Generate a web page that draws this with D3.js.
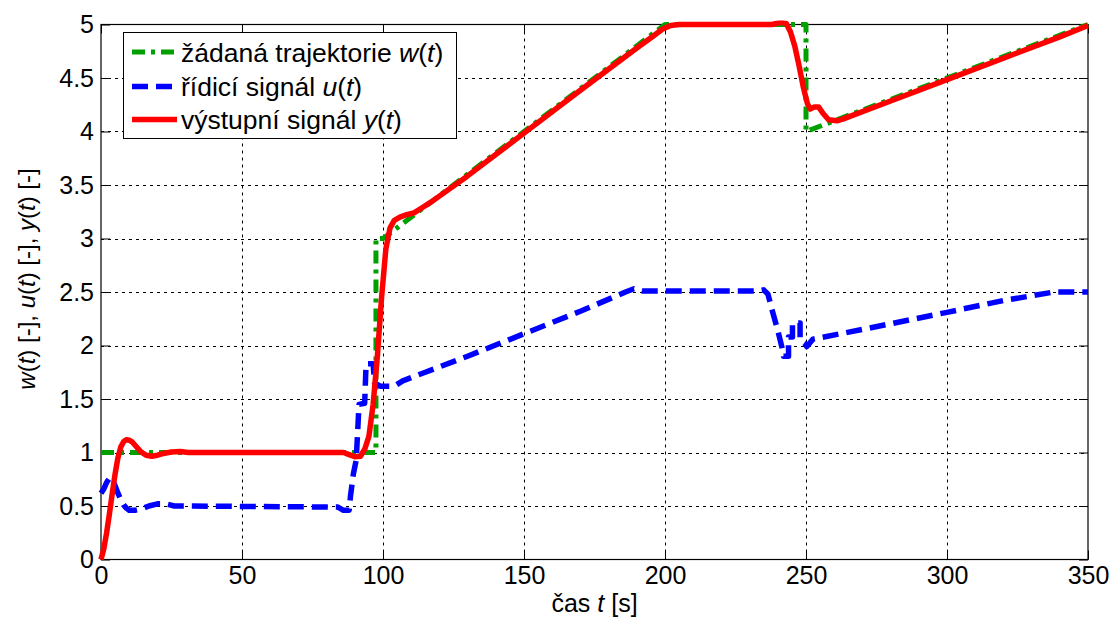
<!DOCTYPE html>
<html>
<head>
<meta charset="utf-8">
<script src="https://cdn.jsdelivr.net/npm/d3@7"></script>
<style>
  html, body { margin: 0; padding: 0; background: #fff; }
  svg { display: block; font-family: "Liberation Sans", Arial, sans-serif; }
</style>
</head>
<body>
<svg id="chart" width="1111" height="618"></svg>
<script>
// Reference trajectory w(t)
const wTime = [0, 97.5, 97.5, 100, 200, 250, 250, 350];
const wValue = [1, 1, 3, 3, 5, 5, 4, 5];

// Control signal u(t)
const uTime = [0, 1, 2, 3, 4, 5, 6, 7, 8, 9, 10, 12, 14, 17, 20, 23, 26, 30, 84, 86, 88,
  88.5, 89.5, 90.5, 91.5, 93.5, 93.5, 94, 96.5, 97, 99, 104, 107, 115, 130, 150, 170, 186, 189, 192,
  233, 235, 236.5, 238, 240, 241.5, 242, 243.8, 243.8, 245.2, 245.2, 247.9, 247.9, 249.5, 250.3,
  252.5, 270, 300, 320, 338, 350];
const uValue = [0.62, 0.66, 0.72, 0.76, 0.75, 0.69, 0.62, 0.56, 0.51, 0.48, 0.46, 0.46, 0.47, 0.5, 0.52, 0.52, 0.5, 0.5, 0.49, 0.46, 0.46,
  0.6, 0.8, 0.93, 1.45, 1.46, 1.46, 1.83, 1.83, 1.65, 1.62, 1.62, 1.67, 1.75, 1.9, 2.11, 2.32, 2.5, 2.53, 2.51,
  2.51, 2.52, 2.48, 2.33, 2.14, 1.98, 1.9, 1.9, 2.08, 2.08, 2.21, 2.21, 2.05, 2.02, 1.99,
  2.06, 2.15, 2.31, 2.42, 2.5, 2.5];

// Output signal y(t)
const yTime = [0, 1, 2, 3, 4, 5, 6, 7, 8, 9, 10, 11, 12, 14, 16, 18, 20, 22, 25, 28, 31, 35, 86, 88, 90, 92,
  93.5, 95, 96.5, 98, 99.5, 101, 102.5, 104, 106, 108, 111, 114, 117, 130, 150, 170, 190, 196, 199, 202, 205,
  238, 241, 243, 244.5, 246, 247.5, 249, 250.5, 251.5, 253, 254.5, 256, 258, 261, 263, 280, 300, 320, 340, 350];
const yValue = [0, 0.1, 0.25, 0.43, 0.62, 0.8, 0.95, 1.05, 1.1, 1.12, 1.115, 1.1, 1.07, 1.01, 0.975, 0.965, 0.975, 0.99, 1.005, 1.01, 1.0, 1.0, 1.0, 0.98, 0.96, 0.965,
  1.03, 1.15, 1.45, 1.9, 2.45, 2.9, 3.1, 3.17, 3.2, 3.22, 3.24, 3.29, 3.34, 3.585, 3.985, 4.385, 4.78, 4.895, 4.955, 4.99, 5.0,
  5.0, 5.02, 5.01, 4.93, 4.8, 4.62, 4.42, 4.26, 4.21, 4.23, 4.23, 4.17, 4.11, 4.1, 4.115, 4.285, 4.485, 4.685, 4.885, 4.99];

// Axis ticks
const xTicks = [0, 50, 100, 150, 200, 250, 300, 350];
const yTicks = [0, 0.5, 1, 1.5, 2, 2.5, 3, 3.5, 4, 4.5, 5];

const svg = d3.select("#chart");
const pLeft = 101, pRight = 1088, pTop = 24.5, pBottom = 559.5;

const x = d3.scaleLinear().domain([0, 350]).range([pLeft, pRight]);
const y = d3.scaleLinear().domain([0, 5]).range([pBottom, pTop]);

svg.append("rect").attr("width", 1111).attr("height", 618).attr("fill", "#fff");

// dotted grid
const grid = svg.append("g").attr("stroke", "#000").attr("stroke-width", 1).attr("stroke-dasharray", "3,4");
grid.selectAll("line.gx").data(xTicks.slice(1, -1)).join("line")
  .attr("x1", d => Math.round(x(d)) + 0.5).attr("x2", d => Math.round(x(d)) + 0.5)
  .attr("y1", pTop).attr("y2", pBottom);
grid.selectAll("line.gy").data(yTicks.slice(1, -1)).join("line")
  .attr("y1", d => Math.round(y(d)) + 0.5).attr("y2", d => Math.round(y(d)) + 0.5)
  .attr("x1", pLeft).attr("x2", pRight);

// axes (ticks inside the box)
const fontSize = 25;
const xAxisB = d3.axisBottom(x).tickValues(xTicks).tickSize(-9).tickPadding(7).tickFormat(d3.format("d"));
const xAxisT = d3.axisTop(x).tickValues(xTicks).tickSize(-9).tickFormat("");
const yAxisL = d3.axisLeft(y).tickValues(yTicks).tickSize(-9).tickPadding(7).tickFormat(d => String(d));
const yAxisR = d3.axisRight(y).tickValues(yTicks).tickSize(-9).tickFormat("");

function styleAxis(g) {
  g.select(".domain").remove();
  g.selectAll("line").attr("stroke", "#000");
  g.selectAll("text").attr("fill", "#000").style("font-size", fontSize + "px")
    .style("font-family", "'Liberation Sans', Arial, sans-serif");
}
svg.append("g").attr("transform", `translate(0,${pBottom})`).call(xAxisB).call(styleAxis);
svg.append("g").attr("transform", `translate(0,${pTop})`).call(xAxisT).call(styleAxis);
svg.append("g").attr("transform", `translate(${pLeft},0)`).call(yAxisL).call(styleAxis);
svg.append("g").attr("transform", `translate(${pRight},0)`).call(yAxisR).call(styleAxis);

svg.append("rect").attr("x", pLeft).attr("y", pTop).attr("width", pRight - pLeft).attr("height", pBottom - pTop)
  .attr("fill", "none").attr("stroke", "#000").attr("stroke-width", 1.2);

// series
svg.append("clipPath").attr("id", "plotClip").append("rect")
  .attr("x", pLeft - 3).attr("y", pTop - 4).attr("width", pRight - pLeft + 6).attr("height", pBottom - pTop + 8);

const line = d3.line().x(d => x(d[0])).y(d => y(d[1]));
const zip = (a, b) => a.map((v, i) => [v, b[i]]);

const series = [
  { name: "w", data: zip(wTime, wValue), color: "#00a000", width: 5, dash: "13,6,4,6" },
  { name: "u", data: zip(uTime, uValue), color: "#0000ff", width: 5.5, dash: "16,8" },
  { name: "y", data: zip(yTime, yValue), color: "#ff0000", width: 5.5, dash: null }
];

const plot = svg.append("g").attr("clip-path", "url(#plotClip)");
series.forEach(s => {
  plot.append("path").datum(s.data)
    .attr("d", line)
    .attr("fill", "none")
    .attr("stroke", s.color)
    .attr("stroke-width", s.width)
    .attr("stroke-linejoin", "round")
    .attr("stroke-dasharray", s.dash);
});

// legend
const legend = svg.append("g");
legend.append("rect").attr("x", 123.5).attr("y", 32.5).attr("width", 333).attr("height", 106)
  .attr("fill", "#fff").attr("stroke", "#000").attr("stroke-width", 1);

const legendRows = [
  { s: series[0], parts: [["žádaná trajektorie ", false], ["w", true], ["(", false], ["t", true], [")", false]] },
  { s: series[1], parts: [["řídicí signál ", false], ["u", true], ["(", false], ["t", true], [")", false]] },
  { s: series[2], parts: [["výstupní signál ", false], ["y", true], ["(", false], ["t", true], [")", false]] }
];
const rowY = [52, 86.5, 119.5];
legendRows.forEach((r, i) => {
  legend.append("line").attr("x1", 132).attr("x2", 177).attr("y1", rowY[i]).attr("y2", rowY[i])
    .attr("stroke", r.s.color).attr("stroke-width", r.s.width).attr("stroke-dasharray", r.s.dash);
  const t = legend.append("text").attr("x", 181).attr("y", rowY[i] + 9.5)
    .style("font-size", "26.5px").attr("fill", "#000");
  r.parts.forEach(p => t.append("tspan").text(p[0]).style("font-style", p[1] ? "italic" : "normal"));
});

// axis titles
const xl = svg.append("text").attr("x", (pLeft + pRight) / 2).attr("y", 612)
  .attr("text-anchor", "middle").style("font-size", "25px");
[["čas ", false], ["t", true], [" [s]", false]].forEach(p =>
  xl.append("tspan").text(p[0]).style("font-style", p[1] ? "italic" : "normal"));

const yl = svg.append("text").attr("transform", "translate(35,279) rotate(-90)")
  .attr("text-anchor", "middle").style("font-size", "24px");
[["w", true], ["(", false], ["t", true], [") [-], ", false], ["u", true], ["(", false], ["t", true], [") [-], ", false],
 ["y", true], ["(", false], ["t", true], [") [-]", false]].forEach(p =>
  yl.append("tspan").text(p[0]).style("font-style", p[1] ? "italic" : "normal"));
</script>
</body>
</html>
